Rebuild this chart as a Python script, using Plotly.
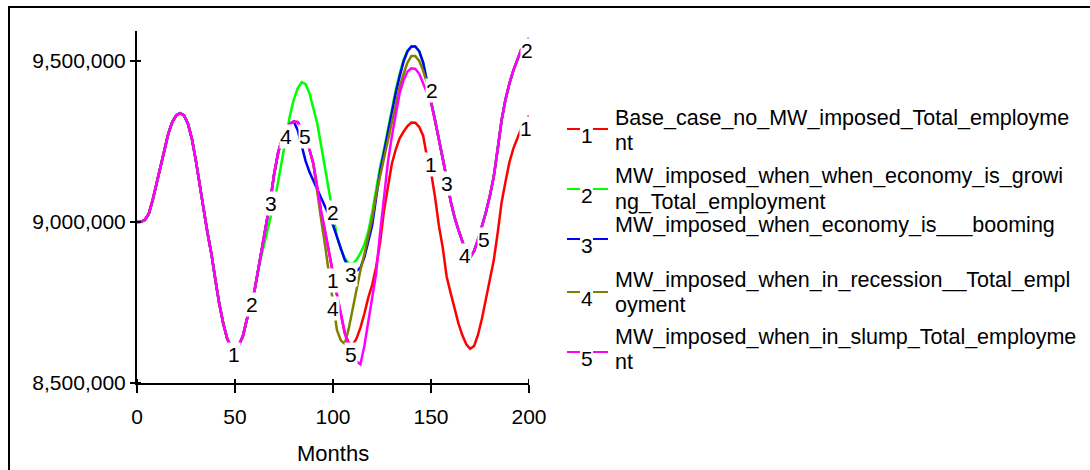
import numpy as np
import plotly.graph_objects as go

# ---------------------------------------------------------------------------
# Data: total employment (millions) sampled every 2 months over a 200-month run
# ---------------------------------------------------------------------------
months = list(range(0, 201, 2))

# months 0-62: identical in every run (no minimum wage imposed yet)
common_start = [9.000, 9.001, 9.006, 9.025, 9.068, 9.120, 9.170, 9.225, 9.275, 9.310,
                9.331, 9.338, 9.331, 9.305, 9.258, 9.192, 9.122, 9.040, 8.965, 8.900,
                8.820, 8.745, 8.685, 8.638, 8.612, 8.607, 8.618, 8.645, 8.696, 8.745,
                8.788, 8.857]

# base case, months 64-200
base_tail = [8.925, 8.985, 9.065, 9.150, 9.215, 9.258, 9.288, 9.305, 9.312, 9.310,
             9.290, 9.262, 9.225, 9.180, 9.100, 9.030, 8.970, 8.900, 8.840, 8.775,
             8.710, 8.655, 8.625, 8.618, 8.638, 8.672, 8.715, 8.765, 8.805, 8.860,
             8.935, 9.035, 9.108, 9.180, 9.225, 9.260, 9.280, 9.298, 9.309, 9.308,
             9.295, 9.268, 9.200, 9.155, 9.080, 8.990, 8.920, 8.830, 8.780, 8.730,
             8.685, 8.648, 8.620, 8.606, 8.615, 8.650, 8.700, 8.760, 8.820, 8.880,
             8.965, 9.060, 9.125, 9.185, 9.228, 9.262, 9.290, 9.310, 9.330]

# months 150-200: the four minimum-wage runs share the same path
converged_tail = [9.375, 9.318, 9.260, 9.200, 9.135, 9.065, 9.015, 8.975, 8.940, 8.905,
                  8.890, 8.910, 8.945, 8.985, 9.030, 9.080, 9.140, 9.225, 9.315, 9.380,
                  9.430, 9.470, 9.505, 9.535, 9.555, 9.570]

# MW imposed while growing, months 64-148
growing_mid = [8.910, 8.955, 9.010, 9.062, 9.125, 9.195, 9.265, 9.330, 9.380, 9.415,
               9.434, 9.428, 9.400, 9.355, 9.305, 9.235, 9.165, 9.092, 9.015, 8.955,
               8.915, 8.888, 8.872, 8.870, 8.882, 8.903, 8.930, 8.970, 9.030, 9.100,
               9.170, 9.225, 9.290, 9.350, 9.410, 9.460, 9.505, 9.532, 9.545, 9.545,
               9.530, 9.495, 9.440]

# MW imposed while booming, months 82-148
booming_mid = [9.285, 9.240, 9.190, 9.155, 9.128, 9.100, 9.075, 9.050, 9.020, 8.990,
               8.955, 8.915, 8.882, 8.862, 8.850, 8.848, 8.858, 8.890, 8.940, 8.990,
               9.075, 9.155, 9.215, 9.280, 9.340, 9.400, 9.452, 9.498, 9.530, 9.545,
               9.545, 9.530, 9.495, 9.440]

# MW imposed in recession, months 92-148
recession_mid = [9.088, 9.005, 8.925, 8.840, 8.740, 8.665, 8.632, 8.622, 8.668, 8.730,
                 8.785, 8.850, 8.900, 8.951, 9.010, 9.085, 9.140, 9.190, 9.250, 9.310,
                 9.365, 9.420, 9.460, 9.495, 9.515, 9.515, 9.500, 9.470, 9.430]

# MW imposed in slump, months 108-150
slump_mid = [8.615, 8.590, 8.567, 8.558, 8.615, 8.690, 8.770, 8.840, 8.965, 9.085,
             9.185, 9.265, 9.335, 9.400, 9.440, 9.467, 9.477, 9.475, 9.460, 9.430,
             9.400, 9.370]

base = common_start + base_tail
runs = [
    base,
    common_start + growing_mid + converged_tail,
    base[:months.index(82)] + booming_mid + converged_tail,
    base[:months.index(92)] + recession_mid + converged_tail,
    base[:months.index(108)] + slump_mid + converged_tail[1:],
]
assert all(len(r) == len(months) for r in runs)

names = [
    ["Base_case_no_MW_imposed_Total_employme", "nt"],
    ["MW_imposed_when_when_economy_is_growi", "ng_Total_employment"],
    ["MW_imposed_when_economy_is___booming"],
    ["MW_imposed_when_in_recession__Total_empl", "oyment"],
    ["MW_imposed_when_in_slump_Total_employme", "nt"],
]
colors = ["#FF0000", "#00FF00", "#0000FF", "#808000", "#FF00FF"]

# where each run's number tag sits (month, employment in millions)
tag_points = [
    [(49.5, 8.590), (100.0, 8.817), (150.0, 9.177), (198.5, 9.289)],
    [(58.7, 8.745), (100.0, 9.028), (150.5, 9.407), (199.0, 9.534)],
    [(68.4, 9.056), (109.2, 8.838), (158.2, 9.118)],
    [(76.0, 9.264), (100.0, 8.730), (167.3, 8.897)],
    [(85.7, 9.264), (109.2, 8.587), (177.0, 8.947)],
]

x_ticks = [0, 50, 100, 150, 200]
y_ticks = [8_500_000, 9_000_000, 9_500_000]

# ---------------------------------------------------------------------------
# Layout geometry (pixels)
# ---------------------------------------------------------------------------
W, H = 1090, 470
L, R, T, B = 137, 561, 31, 87
PW, PH = W - L - R, H - T - B
FONT = "Arial, Liberation Sans, sans-serif"


def px_x(px):
    return (px - L) / PW


def px_y(py):
    return (H - B - py) / PH


fig = go.Figure()
for run, color in zip(runs, colors):
    fig.add_trace(go.Scatter(
        x=months, y=np.array(run) * 1e6, mode="lines",
        line=dict(color=color, width=2.5), hoverinfo="skip", showlegend=False,
    ))

annotations = []
shapes = []

# number tags along the curves (white box breaks the lines underneath)
for k, pts in enumerate(tag_points, start=1):
    for m, v in pts:
        annotations.append(dict(
            x=m, y=v * 1e6, xref="x", yref="y", text=str(k), showarrow=False,
            font=dict(family=FONT, size=21, color="black"),
            bgcolor="white", borderpad=0, xanchor="center", yanchor="middle",
        ))

# legend drawn by hand: coloured dash, number, coloured dash, wrapped name
dash_y = [129, 189, 239, 292, 352]
text_y = [[117.5, 142.5], [176, 202], [225], [280, 305], [336.5, 362]]
for k, (color, lines, dy, ty) in enumerate(zip(colors, names, dash_y, text_y), start=1):
    for xa, xb in [(567, 580), (593, 608)]:
        shapes.append(dict(type="line", xref="paper", yref="paper",
                           x0=px_x(xa), x1=px_x(xb), y0=px_y(dy), y1=px_y(dy),
                           line=dict(color=color, width=2)))
    annotations.append(dict(
        x=px_x(587), y=px_y(dy + 6), xref="paper", yref="paper", text=str(k),
        showarrow=False, font=dict(family=FONT, size=21, color="black"),
        xanchor="center", yanchor="middle",
    ))
    for line, yy in zip(lines, ty):
        annotations.append(dict(
            x=px_x(613), y=px_y(yy), xref="paper", yref="paper", text=line,
            showarrow=False, font=dict(family=FONT, size=21.5, color="black"),
            xanchor="left", yanchor="middle",
        ))

# axis title
annotations.append(dict(
    x=0.5, y=px_y(453.5), xref="paper", yref="paper", text="Months",
    showarrow=False, font=dict(family=FONT, size=22, color="black"),
    xanchor="center", yanchor="middle",
))

# inner halves of the tick marks (ticks cross the axis lines)
for xv in x_ticks:
    shapes.append(dict(type="line", xref="x", yref="paper", x0=xv, x1=xv,
                       y0=0, y1=4 / PH, line=dict(color="black", width=2)))
for yv in y_ticks:
    shapes.append(dict(type="line", xref="paper", yref="y", x0=0, x1=4 / PW,
                       y0=yv, y1=yv, line=dict(color="black", width=2)))

# outer frame (runs off the right and bottom edges)
shapes.append(dict(type="rect", xref="paper", yref="paper",
                   x0=px_x(9), x1=px_x(1110), y0=px_y(490), y1=px_y(7),
                   line=dict(color="black", width=2), fillcolor="rgba(0,0,0,0)"))

fig.update_layout(
    width=W, height=H,
    margin=dict(l=L, r=R, t=T, b=B, pad=0),
    paper_bgcolor="white", plot_bgcolor="white",
    showlegend=False,
    font=dict(family=FONT, size=21, color="black"),
    annotations=annotations, shapes=shapes,
)
fig.update_xaxes(
    range=[0, 200], tickvals=x_ticks, ticks="outside", ticklen=8, tickwidth=2,
    tickcolor="black", showline=True, linecolor="black", linewidth=2,
    showgrid=False, zeroline=False, ticklabelstandoff=6,
    tickfont=dict(family=FONT, size=21, color="black"),
)
fig.update_yaxes(
    range=[8_500_000, 9_593_000], tickvals=y_ticks, tickformat=",d",
    ticks="outside", ticklen=5, tickwidth=2, tickcolor="black",
    showline=True, linecolor="black", linewidth=2,
    showgrid=False, zeroline=False,
    tickfont=dict(family=FONT, size=21, color="black"),
)

fig.write_html("out.html", config={"displayModeBar": False})
